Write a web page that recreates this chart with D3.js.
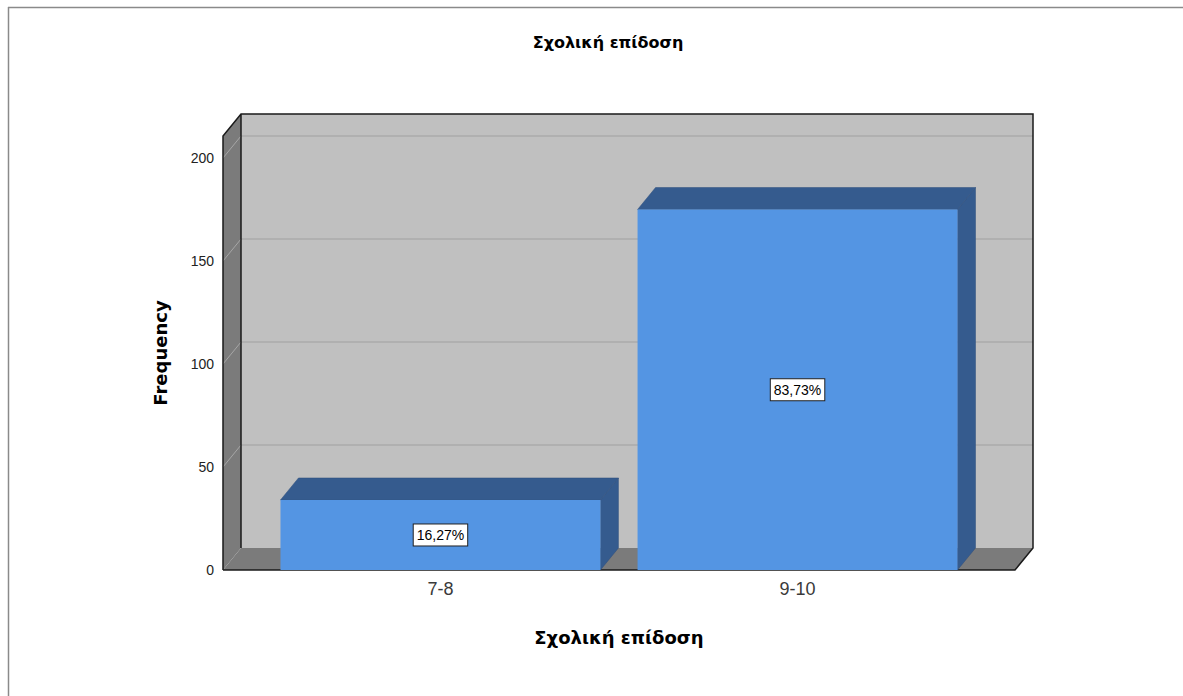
<!DOCTYPE html>
<html>
<head>
<meta charset="utf-8">
<script src="https://cdn.jsdelivr.net/npm/d3@7"></script>
<style>
  body { margin: 0; background: #fff; }
  text { font-family: "Liberation Sans", Arial, sans-serif; }
  .heading { font-family: "DejaVu Sans", Verdana, sans-serif; font-weight: bold; fill: #000; }
</style>
</head>
<body>
<div id="svgWrapper"></div>
<script>
// data
var categories = ["7-8", "9-10"];
var frequencies = [34, 175];
var percentLabels = ["16,27%", "83,73%"];
var yTicks = [0, 50, 100, 150, 200];
var chartTitle = "Σχολική επίδοση";
var xTitle = "Σχολική επίδοση";
var yTitle = "Frequency";

var fullWidth = 1183, fullHeight = 696;
var frontLeft = 223, frontRight = 1015; // front plane
var frontBottom = 570, frontTop = 136;
var depthX = 18, depthY = 22; // 3d offset

var svg = d3.select("#svgWrapper")
  .append("svg")
  .attr("width", fullWidth)
  .attr("height", fullHeight);

// outer frame (only top and left edges show)
svg.append("line").attr("x1", 8).attr("y1", 7.5).attr("x2", fullWidth).attr("y2", 7.5)
  .attr("stroke", "#8a8a8a").attr("stroke-width", 1.5);
svg.append("line").attr("x1", 8.5).attr("y1", 7).attr("x2", 8.5).attr("y2", fullHeight)
  .attr("stroke", "#8a8a8a").attr("stroke-width", 1.5);

var xScale = d3.scaleBand()
  .domain(categories)
  .range([frontLeft, frontRight])
  .paddingInner(0.104)
  .paddingOuter(0.161);

var yScale = d3.scaleLinear()
  .domain([0, 200])
  .range([frontBottom, 158]);

// walls
var walls = svg.append("g").attr("id", "walls");
walls.append("rect")
  .attr("x", frontLeft + depthX).attr("y", frontTop - depthY)
  .attr("width", frontRight - frontLeft).attr("height", frontBottom - frontTop)
  .attr("fill", "#c0c0c0");
walls.append("polygon") // left wall
  .attr("points", [[frontLeft, frontTop], [frontLeft + depthX, frontTop - depthY],
    [frontLeft + depthX, frontBottom - depthY], [frontLeft, frontBottom]].join(" "))
  .attr("fill", "#7b7b7b");
walls.append("polygon") // floor
  .attr("points", [[frontLeft, frontBottom], [frontLeft + depthX, frontBottom - depthY],
    [frontRight + depthX, frontBottom - depthY], [frontRight, frontBottom]].join(" "))
  .attr("fill", "#7b7b7b");

// grid lines
yTicks.filter(function(t) { return t > 0; }).forEach(function(t) {
  var yy = yScale(t);
  walls.append("line")
    .attr("x1", frontLeft + depthX).attr("x2", frontRight + depthX)
    .attr("y1", yy - depthY).attr("y2", yy - depthY)
    .attr("stroke", "#ababab").attr("stroke-width", 1.5);
  walls.append("line")
    .attr("x1", frontLeft).attr("y1", yy)
    .attr("x2", frontLeft + depthX).attr("y2", yy - depthY)
    .attr("stroke", "#a6a6a6").attr("stroke-width", 1);
});

// wall edges
var edge = d3.path();
edge.moveTo(frontLeft, frontBottom);
edge.lineTo(frontLeft, frontTop);
edge.lineTo(frontLeft + depthX, frontTop - depthY);
edge.lineTo(frontRight + depthX, frontTop - depthY);
edge.lineTo(frontRight + depthX, frontBottom - depthY);
edge.lineTo(frontRight, frontBottom);
edge.lineTo(frontLeft, frontBottom);
edge.moveTo(frontLeft + depthX, frontTop - depthY);
edge.lineTo(frontLeft + depthX, frontBottom - depthY);
walls.append("path").attr("d", edge.toString())
  .attr("fill", "none").attr("stroke", "#1a1a1a").attr("stroke-width", 1.5);

// bars
var bars = svg.selectAll("g.bar")
  .data(frequencies)
  .enter().append("g")
  .attr("class", "bar");

bars.append("polygon") // side face
  .attr("points", function(d, i) {
    var x1 = xScale(categories[i]) + xScale.bandwidth();
    return [[x1, yScale(d)], [x1 + depthX, yScale(d) - depthY],
      [x1 + depthX, yScale(0) - depthY], [x1, yScale(0)]].join(" ");
  })
  .attr("fill", "#355b8e").attr("stroke", "#2e4f7c").attr("stroke-width", 0.5);

bars.append("polygon") // top face
  .attr("points", function(d, i) {
    var x0 = xScale(categories[i]), x1 = x0 + xScale.bandwidth();
    return [[x0, yScale(d)], [x0 + depthX, yScale(d) - depthY],
      [x1 + depthX, yScale(d) - depthY], [x1, yScale(d)]].join(" ");
  })
  .attr("fill", "#355b8e").attr("stroke", "#2e4f7c").attr("stroke-width", 0.5);

bars.append("rect") // front face
  .attr("x", function(d, i) { return xScale(categories[i]); })
  .attr("y", function(d) { return yScale(d); })
  .attr("width", xScale.bandwidth())
  .attr("height", function(d) { return yScale(0) - yScale(d); })
  .attr("fill", "#5495e3");

// percent labels
bars.each(function(d, i) {
  var g = d3.select(this);
  var cx = xScale(categories[i]) + xScale.bandwidth() / 2;
  var cy = (yScale(d) + yScale(0)) / 2;
  var t = g.append("text")
    .attr("x", cx).attr("y", cy + 5)
    .attr("text-anchor", "middle")
    .style("font-size", "14px")
    .style("fill", "#000")
    .text(percentLabels[i]);
  var bb = t.node().getBBox();
  g.insert("rect", "text")
    .attr("x", bb.x - 3.5).attr("y", cy - 11)
    .attr("width", bb.width + 7).attr("height", 22)
    .attr("fill", "#fff").attr("stroke", "#222").attr("stroke-width", 1);
});

// y axis labels
var yAxis = svg.append("g")
  .attr("transform", "translate(" + frontLeft + ",0)")
  .call(d3.axisLeft(yScale).tickValues(yTicks).tickSize(0).tickPadding(9));
yAxis.select(".domain").remove();
yAxis.selectAll("text")
  .style("font-family", "'Liberation Sans', Arial, sans-serif")
  .style("font-size", "14px")
  .style("fill", "#222");

// x axis labels
var xAxis = svg.append("g")
  .attr("transform", "translate(0," + frontBottom + ")")
  .call(d3.axisBottom(xScale).tickSize(0).tickPadding(12));
xAxis.select(".domain").remove();
xAxis.selectAll("text")
  .style("font-family", "'Liberation Sans', Arial, sans-serif")
  .style("font-size", "18px")
  .style("fill", "#3a3a3a");

// titles
svg.append("text")
  .attr("class", "heading")
  .attr("x", 608).attr("y", 48)
  .attr("text-anchor", "middle")
  .style("font-size", "16px")
  .text(chartTitle);

svg.append("text")
  .attr("class", "heading")
  .attr("x", (frontLeft + frontRight) / 2).attr("y", 644)
  .attr("text-anchor", "middle")
  .style("font-size", "18px")
  .text(xTitle);

svg.append("text")
  .attr("class", "heading")
  .attr("transform", "translate(167," + (frontTop + frontBottom) / 2 + ") rotate(-90)")
  .attr("text-anchor", "middle")
  .style("font-size", "18px")
  .text(yTitle);
</script>
</body>
</html>
